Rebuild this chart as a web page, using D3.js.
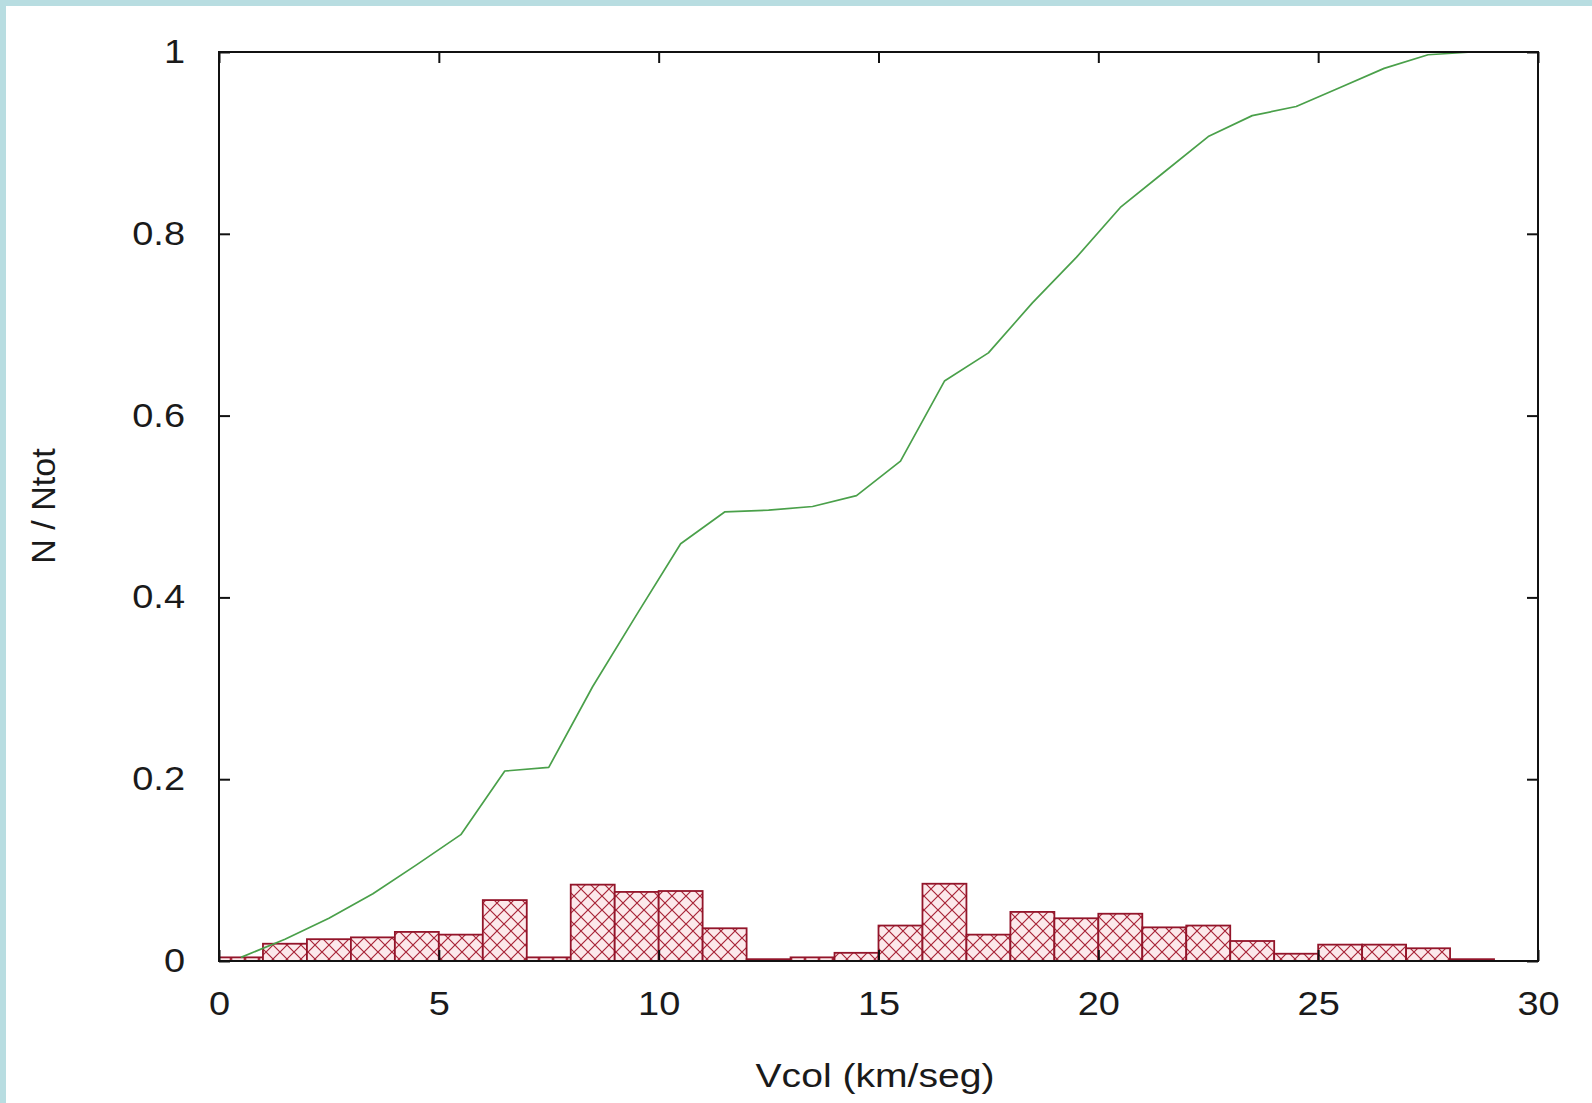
<!DOCTYPE html>
<html>
<head>
<meta charset="utf-8">
<script src="https://cdn.jsdelivr.net/npm/d3@7"></script>
<style>
  html, body { margin: 0; padding: 0; background: #fff; }
  svg { display: block; }
  .ticklbl { font-family: "Liberation Sans", Arial, sans-serif; font-size: 33px; fill: #1a1a1a; }
  .axistitle { font-family: "Liberation Sans", Arial, sans-serif; font-size: 34px; fill: #1a1a1a; }
</style>
</head>
<body>
<svg id="chart" width="1592" height="1103"></svg>
<script>
// histogram bins (left edge, km/seg), each bin 1 wide
const binLeft = [0, 1, 2, 3, 4, 5, 6, 7, 8, 9, 10, 11, 12, 13, 14,
  15, 16, 17, 18, 19, 20, 21, 22, 23, 24, 25, 26, 27, 28];
// fraction of objects per bin (N / Ntot)
const binFrac = [0.004, 0.019, 0.024, 0.026, 0.032, 0.029, 0.067, 0.004, 0.084, 0.076,
  0.077, 0.036, 0.002, 0.004, 0.009, 0.039, 0.085, 0.029, 0.054, 0.047,
  0.052, 0.037, 0.039, 0.022, 0.008, 0.018, 0.018, 0.014, 0.002];

// cumulative curve (bin centres)
const cumX = [0.5, 1.5, 2.5, 3.5, 4.5, 5.5, 6.5, 7.5, 8.5, 9.5, 10.5, 11.5, 12.5, 13.5,
  14.5, 15.5, 16.5, 17.5, 18.5, 19.5, 20.5, 21.5, 22.5, 23.5, 24.5, 25.5, 26.5, 27.5, 28.5];
const cumY = [0.004, 0.024, 0.047, 0.074, 0.106, 0.139, 0.209, 0.213, 0.302, 0.381,
  0.459, 0.494, 0.496, 0.500, 0.512, 0.550, 0.638, 0.669, 0.724, 0.774,
  0.829, 0.868, 0.907, 0.930, 0.940, 0.961, 0.982, 0.997, 1.000];

const xTicks = [0, 5, 10, 15, 20, 25, 30];
const yTicks = [0, 0.2, 0.4, 0.6, 0.8, 1];

const svg = d3.select("#chart");

// light blue page edge (top and left only)
svg.append("rect").attr("x", 0).attr("y", 0).attr("width", 1592).attr("height", 6).attr("fill", "#b8dde1");
svg.append("rect").attr("x", 0).attr("y", 0).attr("width", 6).attr("height", 1103).attr("fill", "#b8dde1");

// plot frame
const plotL = 219, plotR = 1538, plotT = 52, plotB = 961;
const x = d3.scaleLinear().domain([0, 30]).range([plotL, plotR]);
const y = d3.scaleLinear().domain([0, 1]).range([plotB, plotT]);

// text in the original is a bit wider than Arial
const stretch = 1.15;

// crosshatch pattern for the bars
const defs = svg.append("defs");
const pat = defs.append("pattern")
  .attr("id", "xhatch")
  .attr("patternUnits", "userSpaceOnUse")
  .attr("width", 14)
  .attr("height", 14);
pat.append("rect").attr("width", 14).attr("height", 14).attr("fill", "#fce9eb");
pat.append("path")
  .attr("d", "M0,0L14,14M0,14L14,0")
  .attr("stroke", "#a82438")
  .attr("stroke-width", 1.2)
  .attr("fill", "none");

// bars
svg.append("g")
  .selectAll("rect")
  .data(binLeft)
  .join("rect")
  .attr("x", (d) => x(d))
  .attr("y", (d, i) => y(binFrac[i]))
  .attr("width", (d) => x(d + 1) - x(d))
  .attr("height", (d, i) => y(0) - y(binFrac[i]))
  .attr("fill", "url(#xhatch)")
  .attr("stroke", "#93152a")
  .attr("stroke-width", 1.8);

// cumulative line
const line = d3.line()
  .x((d, i) => x(cumX[i]))
  .y((d) => y(d));
svg.append("path")
  .datum(cumY)
  .attr("d", line)
  .attr("fill", "none")
  .attr("stroke", "#4aa04a")
  .attr("stroke-width", 1.7)
  .attr("stroke-linejoin", "round");

// axes: inward ticks on all four sides, gnuplot style
const tickLen = 11;
const fmt = d3.format("~g");

const xAxisB = svg.append("g")
  .attr("transform", `translate(0,${plotB})`)
  .call(d3.axisBottom(x).tickValues(xTicks).tickSize(-tickLen).tickPadding(31).tickFormat(fmt));
const xAxisT = svg.append("g")
  .attr("transform", `translate(0,${plotT})`)
  .call(d3.axisTop(x).tickValues(xTicks).tickSize(-tickLen).tickFormat(""));
const yAxisL = svg.append("g")
  .attr("transform", `translate(${plotL},0)`)
  .call(d3.axisLeft(y).tickValues(yTicks).tickSize(-tickLen).tickPadding(34 / stretch).tickFormat(fmt));
const yAxisR = svg.append("g")
  .attr("transform", `translate(${plotR},0)`)
  .call(d3.axisRight(y).tickValues(yTicks).tickSize(-tickLen).tickFormat(""));

[xAxisB, xAxisT, yAxisL, yAxisR].forEach((g) => {
  g.select(".domain").remove();
  g.selectAll(".tick line").attr("stroke", "#111").attr("stroke-width", 2);
  g.selectAll(".tick text").attr("class", "ticklbl").attr("fill", null);
  g.attr("font-size", null).attr("font-family", null);
});
xAxisB.selectAll(".tick text").attr("dy", "0.71em").attr("transform", `scale(${stretch},1)`);
yAxisL.selectAll(".tick text").attr("transform", `scale(${stretch},1)`);

// frame on top
svg.append("rect")
  .attr("x", plotL)
  .attr("y", plotT)
  .attr("width", plotR - plotL)
  .attr("height", plotB - plotT)
  .attr("fill", "none")
  .attr("stroke", "#111")
  .attr("stroke-width", 2);

// axis titles
svg.append("text")
  .attr("class", "axistitle")
  .attr("transform", `translate(875,1087) scale(${stretch},1)`)
  .attr("text-anchor", "middle")
  .text("Vcol (km/seg)");

svg.append("text")
  .attr("class", "axistitle")
  .attr("transform", "translate(55,506) rotate(-90)")
  .attr("text-anchor", "middle")
  .text("N / Ntot");
</script>
</body>
</html>
